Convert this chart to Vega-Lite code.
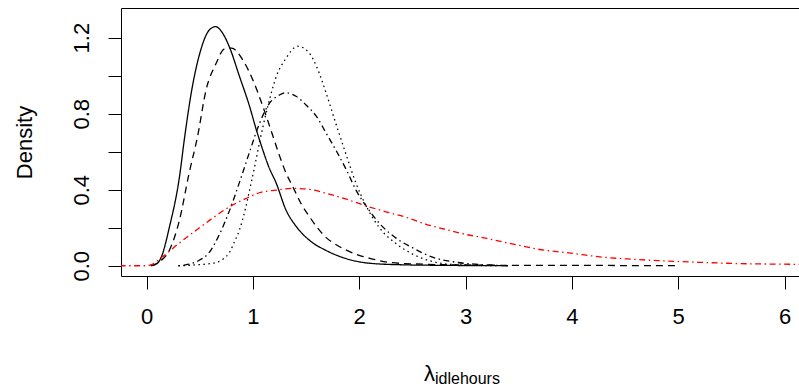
{
  "$schema": "https://vega.github.io/schema/vega-lite/v6.json",
  "width": 680,
  "height": 268,
  "autosize": "none",
  "padding": {"left": 121, "top": 8, "right": -2, "bottom": 114},
  "background": "white",
  "config": {
    "view": {"stroke": "black", "strokeWidth": 1},
    "axis": {
      "domain": false,
      "grid": false,
      "tickColor": "black",
      "tickSize": 13,
      "tickWidth": 1,
      "labelFont": "Liberation Sans",
      "labelFontSize": 22,
      "labelColor": "black",
      "titleFont": "Liberation Sans",
      "titleFontSize": 22,
      "titleFontWeight": "normal",
      "titleColor": "black",
      "labelFlush": false,
      "labelOverlap": false
    }
  },
  "title": {
    "text": "idlehours",
    "orient": "bottom",
    "anchor": "middle",
    "frame": "group",
    "align": "left",
    "baseline": "alphabetic",
    "dx": -26,
    "offset": 0,
    "font": "Liberation Sans",
    "fontSize": 16,
    "fontWeight": "normal",
    "color": "black"
  },
  "datasets": {
    "curves": [
      {"series": "m1", "x": 0.04, "y": 0},
      {"series": "m1", "x": 0.1, "y": 0.012},
      {"series": "m1", "x": 0.14, "y": 0.047},
      {"series": "m1", "x": 0.216, "y": 0.205},
      {"series": "m1", "x": 0.31, "y": 0.468},
      {"series": "m1", "x": 0.357, "y": 0.67},
      {"series": "m1", "x": 0.42, "y": 0.907},
      {"series": "m1", "x": 0.51, "y": 1.135},
      {"series": "m1", "x": 0.59, "y": 1.24},
      {"series": "m1", "x": 0.65, "y": 1.258},
      {"series": "m1", "x": 0.72, "y": 1.22},
      {"series": "m1", "x": 0.78, "y": 1.15},
      {"series": "m1", "x": 0.875, "y": 0.995},
      {"series": "m1", "x": 0.97, "y": 0.837},
      {"series": "m1", "x": 1.03, "y": 0.72},
      {"series": "m1", "x": 1.09, "y": 0.615},
      {"series": "m1", "x": 1.15, "y": 0.52},
      {"series": "m1", "x": 1.22, "y": 0.434},
      {"series": "m1", "x": 1.31, "y": 0.295},
      {"series": "m1", "x": 1.41, "y": 0.205},
      {"series": "m1", "x": 1.53, "y": 0.135},
      {"series": "m1", "x": 1.69, "y": 0.08},
      {"series": "m1", "x": 1.88, "y": 0.037},
      {"series": "m1", "x": 2.1, "y": 0.013},
      {"series": "m1", "x": 2.4, "y": 0.005},
      {"series": "m1", "x": 2.8, "y": 0.002},
      {"series": "m1", "x": 3.4, "y": 0},

      {"series": "m2", "x": 0.04, "y": 0},
      {"series": "m2", "x": 0.12, "y": 0.02},
      {"series": "m2", "x": 0.216, "y": 0.083},
      {"series": "m2", "x": 0.31, "y": 0.24},
      {"series": "m2", "x": 0.4, "y": 0.486},
      {"series": "m2", "x": 0.48, "y": 0.68},
      {"series": "m2", "x": 0.56, "y": 0.925},
      {"series": "m2", "x": 0.655, "y": 1.065},
      {"series": "m2", "x": 0.73, "y": 1.14},
      {"series": "m2", "x": 0.8, "y": 1.145},
      {"series": "m2", "x": 0.905, "y": 1.083},
      {"series": "m2", "x": 1.0, "y": 0.977},
      {"series": "m2", "x": 1.095, "y": 0.837},
      {"series": "m2", "x": 1.19, "y": 0.68},
      {"series": "m2", "x": 1.25, "y": 0.58},
      {"series": "m2", "x": 1.31, "y": 0.49},
      {"series": "m2", "x": 1.376, "y": 0.416},
      {"series": "m2", "x": 1.45, "y": 0.33},
      {"series": "m2", "x": 1.53, "y": 0.26},
      {"series": "m2", "x": 1.6, "y": 0.205},
      {"series": "m2", "x": 1.69, "y": 0.148},
      {"series": "m2", "x": 1.8, "y": 0.105},
      {"series": "m2", "x": 1.875, "y": 0.083},
      {"series": "m2", "x": 2.0, "y": 0.055},
      {"series": "m2", "x": 2.1, "y": 0.039},
      {"series": "m2", "x": 2.31, "y": 0.016},
      {"series": "m2", "x": 2.6, "y": 0.008},
      {"series": "m2", "x": 3.0, "y": 0.004},
      {"series": "m2", "x": 3.5, "y": 0.002},
      {"series": "m2", "x": 4.0, "y": 0.002},
      {"series": "m2", "x": 4.5, "y": 0.001},
      {"series": "m2", "x": 5.0, "y": 0},

      {"series": "m3", "x": 0.3, "y": 0},
      {"series": "m3", "x": 0.45, "y": 0.004},
      {"series": "m3", "x": 0.62, "y": 0.013},
      {"series": "m3", "x": 0.72, "y": 0.035},
      {"series": "m3", "x": 0.78, "y": 0.07},
      {"series": "m3", "x": 0.83, "y": 0.13},
      {"series": "m3", "x": 0.875, "y": 0.19},
      {"series": "m3", "x": 0.93, "y": 0.3},
      {"series": "m3", "x": 0.97, "y": 0.4},
      {"series": "m3", "x": 1.02, "y": 0.53},
      {"series": "m3", "x": 1.063, "y": 0.65},
      {"series": "m3", "x": 1.14, "y": 0.837},
      {"series": "m3", "x": 1.22, "y": 0.995},
      {"series": "m3", "x": 1.31, "y": 1.09},
      {"series": "m3", "x": 1.42, "y": 1.155},
      {"series": "m3", "x": 1.52, "y": 1.126},
      {"series": "m3", "x": 1.6, "y": 1.047},
      {"series": "m3", "x": 1.69, "y": 0.907},
      {"series": "m3", "x": 1.78, "y": 0.749},
      {"series": "m3", "x": 1.88, "y": 0.58},
      {"series": "m3", "x": 1.97, "y": 0.434},
      {"series": "m3", "x": 2.07, "y": 0.31},
      {"series": "m3", "x": 2.19, "y": 0.2},
      {"series": "m3", "x": 2.35, "y": 0.115},
      {"series": "m3", "x": 2.5, "y": 0.062},
      {"series": "m3", "x": 2.69, "y": 0.022},
      {"series": "m3", "x": 2.88, "y": 0.006},
      {"series": "m3", "x": 3.1, "y": 0.002},
      {"series": "m3", "x": 3.3, "y": 0},

      {"series": "m4", "x": 0.3, "y": 0},
      {"series": "m4", "x": 0.4, "y": 0.008},
      {"series": "m4", "x": 0.5, "y": 0.03},
      {"series": "m4", "x": 0.59, "y": 0.07},
      {"series": "m4", "x": 0.69, "y": 0.17},
      {"series": "m4", "x": 0.78, "y": 0.29},
      {"series": "m4", "x": 0.875, "y": 0.44},
      {"series": "m4", "x": 0.97, "y": 0.6},
      {"series": "m4", "x": 1.063, "y": 0.75},
      {"series": "m4", "x": 1.157, "y": 0.855},
      {"series": "m4", "x": 1.25, "y": 0.898},
      {"series": "m4", "x": 1.31, "y": 0.91},
      {"series": "m4", "x": 1.41, "y": 0.89},
      {"series": "m4", "x": 1.5, "y": 0.846},
      {"series": "m4", "x": 1.6, "y": 0.784},
      {"series": "m4", "x": 1.69, "y": 0.697},
      {"series": "m4", "x": 1.78, "y": 0.609},
      {"series": "m4", "x": 1.88, "y": 0.504},
      {"series": "m4", "x": 1.97, "y": 0.398},
      {"series": "m4", "x": 2.07, "y": 0.31},
      {"series": "m4", "x": 2.19, "y": 0.223},
      {"series": "m4", "x": 2.35, "y": 0.144},
      {"series": "m4", "x": 2.5, "y": 0.095},
      {"series": "m4", "x": 2.69, "y": 0.045},
      {"series": "m4", "x": 2.88, "y": 0.021},
      {"series": "m4", "x": 3.14, "y": 0.006},
      {"series": "m4", "x": 3.4, "y": 0},

      {"series": "prior", "x": -0.3, "y": 0},
      {"series": "prior", "x": 0, "y": 0},
      {"series": "prior", "x": 0.04, "y": 0.004},
      {"series": "prior", "x": 0.15, "y": 0.047},
      {"series": "prior", "x": 0.31, "y": 0.12},
      {"series": "prior", "x": 0.47, "y": 0.188},
      {"series": "prior", "x": 0.62, "y": 0.25},
      {"series": "prior", "x": 0.78, "y": 0.31},
      {"series": "prior", "x": 0.94, "y": 0.355},
      {"series": "prior", "x": 1.06, "y": 0.384},
      {"series": "prior", "x": 1.22, "y": 0.398},
      {"series": "prior", "x": 1.375, "y": 0.407},
      {"series": "prior", "x": 1.53, "y": 0.402},
      {"series": "prior", "x": 1.69, "y": 0.381},
      {"series": "prior", "x": 1.88, "y": 0.35},
      {"series": "prior", "x": 2.07, "y": 0.314},
      {"series": "prior", "x": 2.25, "y": 0.284},
      {"series": "prior", "x": 2.44, "y": 0.255},
      {"series": "prior", "x": 2.63, "y": 0.218},
      {"series": "prior", "x": 2.82, "y": 0.19},
      {"series": "prior", "x": 3.0, "y": 0.165},
      {"series": "prior", "x": 3.19, "y": 0.145},
      {"series": "prior", "x": 3.35, "y": 0.125},
      {"series": "prior", "x": 3.5, "y": 0.108},
      {"series": "prior", "x": 3.63, "y": 0.092},
      {"series": "prior", "x": 3.8, "y": 0.078},
      {"series": "prior", "x": 3.95, "y": 0.069},
      {"series": "prior", "x": 4.1, "y": 0.058},
      {"series": "prior", "x": 4.26, "y": 0.047},
      {"series": "prior", "x": 4.57, "y": 0.034},
      {"series": "prior", "x": 4.89, "y": 0.025},
      {"series": "prior", "x": 5.2, "y": 0.018},
      {"series": "prior", "x": 5.52, "y": 0.012},
      {"series": "prior", "x": 5.83, "y": 0.009},
      {"series": "prior", "x": 6.3, "y": 0.007}
    ]
  },
  "layer": [
    {
      "mark": {"type": "rule", "color": "#bebebe", "strokeWidth": 1.5},
      "encoding": {
        "y": {"datum": 0, "type": "quantitative", "scale": {"domain": [-0.054, 1.356], "nice": false, "zero": false}}
      }
    },
    {
      "data": {"name": "curves"},
      "mark": {"type": "line", "clip": true, "strokeWidth": 1.3, "interpolate": "monotone"},
      "encoding": {
        "x": {
          "field": "x",
          "type": "quantitative",
          "scale": {"domain": [-0.24, 6.155], "nice": false, "zero": false},
          "axis": {
            "values": [0, 1, 2, 3, 4, 5, 6],
            "labelPadding": 17,
            "title": "λ",
            "titleX": 308,
            "titleY": 104,
            "titleAlign": "center",
            "titleBaseline": "alphabetic"
          }
        },
        "y": {
          "field": "y",
          "type": "quantitative",
          "scale": {"domain": [-0.054, 1.356], "nice": false, "zero": false},
          "axis": {
            "values": [0, 0.2, 0.4, 0.6, 0.8, 1, 1.2],
            "labelExpr": "round(datum.value*10) % 4 == 0 ? format(datum.value, '.1f') : ''",
            "labelAngle": -90,
            "labelAlign": "center",
            "labelBaseline": "alphabetic",
            "labelPadding": 20,
            "title": "Density",
            "titleAngle": 270,
            "titleX": -97,
            "titleY": 134,
            "titleAlign": "center",
            "titleBaseline": "middle"
          }
        },
        "color": {
          "field": "series",
          "type": "nominal",
          "scale": {"domain": ["m1", "m2", "m3", "m4", "prior"], "range": ["black", "black", "black", "black", "red"]},
          "legend": null
        },
        "strokeDash": {
          "field": "series",
          "type": "nominal",
          "scale": {"domain": ["m1", "m2", "m3", "m4", "prior"], "range": [[1, 0], [7, 5], [1.5, 3.5], [1.5, 3.5, 6, 3.5], [1.5, 3.5, 6, 3.5]]},
          "legend": null
        }
      }
    }
  ]
}
